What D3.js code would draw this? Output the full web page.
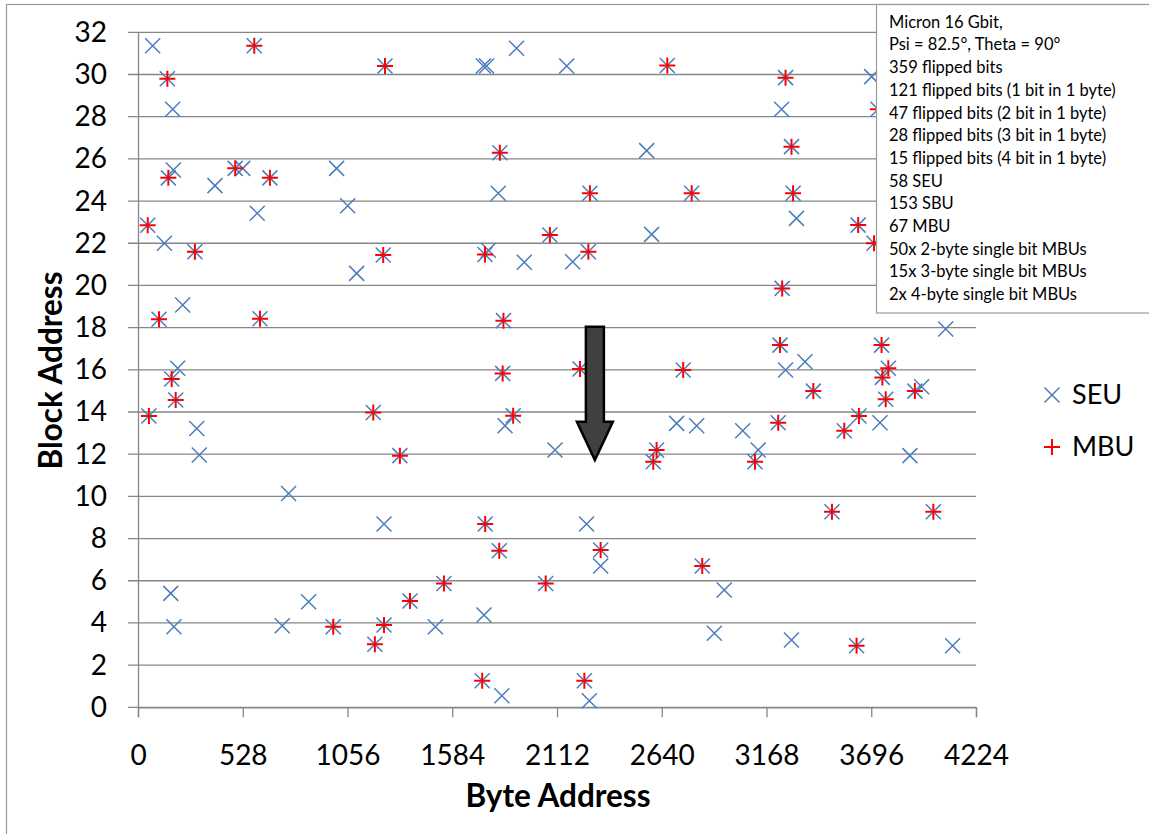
<!DOCTYPE html>
<html><head><meta charset="utf-8">
<script src="https://cdn.jsdelivr.net/npm/d3@7"></script>
<style>html,body{margin:0;padding:0;background:#fff;}svg{display:block;font-family:Lato,"Open Sans",sans-serif;}</style>
</head><body>
<svg id="c" width="1149" height="834"></svg>
<script>
// ---- data ----
const xTicks = [0,528,1056,1584,2112,2640,3168,3696,4224];
const yTicks = [0,2,4,6,8,10,12,14,16,18,20,22,24,26,28,30,32];
// SEU-only events (byte address, block address)
const seuByte  = [74,175,178,388,528,1001,601,1057,133,1102,225,200,296,309,759,165,181,727,860,
  1741,1757,1908,2161,2564,1816,2589,1766,1947,2191,1850,2715,2816,2102,1240,2261,2332,2955,1499,1744,
  1834,2275,2905,3294,4106,4071,3264,3362,3950,3048,3126,3740,3891,3698,3244,3319];
const seuBlock = [31.36,28.35,25.47,24.73,25.55,25.55,23.42,23.78,22.0,20.57,19.07,16.07,13.22,11.96,10.14,5.40,3.82,3.87,5.0,
  30.4,30.4,31.24,30.4,26.39,24.37,22.42,21.67,21.1,21.12,13.35,13.46,13.35,12.2,8.69,8.69,6.70,5.56,3.82,4.38,
  0.55,0.31,3.51,3.19,2.92,17.93,15.99,16.38,15.2,13.11,12.2,13.49,11.93,29.9,28.35,23.18];
// MBU events (byte address, block address)
const mbuByte  = [148,586,153,490,665,49,287,106,615,170,190,55,1186,984,1194,1245,2668,1824,2278,2791,2076,
  1236,1749,2270,1842,1838,2228,2748,1891,1320,2614,2597,1750,1821,2332,2844,1542,2055,1371,1240,1735,2250,
  3498,4009,3622,3236,3404,3748,3782,3752,3769,3916,3227,3110,3560,3634,3264,3730,3294,3302,3630,3710,3247];
const mbuBlock = [29.8,31.36,25.1,25.55,25.1,22.85,21.6,18.4,18.42,15.56,14.57,13.81,13.98,3.82,2.99,30.4,30.43,26.29,24.37,24.37,22.39,
  21.44,21.47,21.6,18.33,15.83,16.04,15.99,13.82,11.93,12.2,11.64,8.69,7.42,7.46,6.70,5.87,5.87,5.04,3.90,1.26,1.26,
  9.27,9.27,2.92,17.17,14.99,17.17,16.07,15.64,14.6,14.99,13.49,11.64,13.11,13.81,29.85,28.35,26.58,24.37,22.86,22.0,19.86];
const infoLines = ["Micron 16 Gbit,","Psi = 82.5°, Theta = 90°","359 flipped bits","121 flipped bits (1 bit in 1 byte)",
  "47 flipped bits (2 bit in 1 byte)","28 flipped bits (3 bit in 1 byte)","15 flipped bits (4 bit in 1 byte)",
  "58 SEU","153 SBU","67 MBU","50x 2-byte single bit MBUs","15x 3-byte single bit MBUs","2x 4-byte single bit MBUs"];
const seriesNames = ["SEU","MBU"];
// arrow annotation in data units: [byte, blockTop, blockHeadBase, blockTip]
const arrowPos = [2303, 18.04, 13.54, 11.72];

// ---- chart ----
const svg = d3.select("#c");
const L=138, R=976, T=32.3, B=707.3;
const x = d3.scaleLinear().domain([0,4224]).range([L,R]);
const y = d3.scaleLinear().domain([0,32]).range([B,T]);
const gridCol = "#868686", blue="#4a7ebb", red="#ff0000";

// outer border
svg.append("rect").attr("x",6.5).attr("y",4.5).attr("width",1160).attr("height",840)
  .attr("fill","none").attr("stroke","#9a9a9a").attr("stroke-width",1.2);

// gridlines
svg.append("g").selectAll("line").data(yTicks).join("line")
  .attr("x1",L-10).attr("x2",R).attr("y1",d=>y(d)).attr("y2",d=>y(d))
  .attr("stroke",gridCol).attr("stroke-width",1.3);

// y axis
const ya = svg.append("g").attr("transform",`translate(${L},0)`)
  .call(d3.axisLeft(y).tickValues(yTicks).tickSize(0).tickPadding(31));
ya.select(".domain").attr("stroke",gridCol).attr("stroke-width",1.3);
ya.selectAll("text").attr("font-size",28).attr("fill","#000").attr("font-family","Lato");

// x axis
const xa = svg.append("g").attr("transform",`translate(0,${B})`)
  .call(d3.axisBottom(x).tickValues(xTicks).tickSize(10).tickPadding(28).tickFormat(d3.format("d")));
xa.select(".domain").attr("stroke",gridCol).attr("stroke-width",1.3);
xa.selectAll("line").attr("stroke",gridCol).attr("stroke-width",1.3);
xa.selectAll("text").attr("font-size",28).attr("fill","#000").attr("font-family","Lato");

// axis titles
svg.append("text").attr("transform","translate(62,370.5) rotate(-90)").attr("text-anchor","middle")
  .attr("font-size",31.5).attr("font-weight","bold").text("Block Address");
svg.append("text").attr("x",558).attr("y",807).attr("text-anchor","middle")
  .attr("font-size",31.5).attr("font-weight","bold").text("Byte Address");

// markers
const xs=7.5, ps=8;
function xMark(g, cx, cy){
  g.append("path").attr("d",`M${cx-xs},${cy-xs}L${cx+xs},${cy+xs}M${cx-xs},${cy+xs}L${cx+xs},${cy-xs}`)
   .attr("stroke",blue).attr("stroke-width",1.5).attr("fill","none");
}
function pMark(g, cx, cy){
  g.append("path").attr("d",`M${cx-ps},${cy}L${cx+ps},${cy}M${cx},${cy-ps}L${cx},${cy+ps}`)
   .attr("stroke",red).attr("stroke-width",2).attr("fill","none");
}
const gS = svg.append("g");
seuByte.forEach((b,i)=>xMark(gS, x(b), y(seuBlock[i])));
mbuByte.forEach((b,i)=>xMark(gS, x(b), y(mbuBlock[i])));
const gM = svg.append("g");
mbuByte.forEach((b,i)=>pMark(gM, x(b), y(mbuBlock[i])));

// arrow
const ax = x(arrowPos[0]), aT=y(arrowPos[1]), aH=y(arrowPos[2]), aTip=y(arrowPos[3]);
svg.append("path").attr("d",`M${ax-9},${aT}L${ax+9},${aT}L${ax+9},${aH}L${ax+18},${aH}L${ax},${aTip}L${ax-18},${aH}L${ax-9},${aH}Z`)
  .attr("fill","#404040").attr("stroke","#000").attr("stroke-width",2.5).attr("stroke-linejoin","miter");

// info box
svg.append("rect").attr("x",876.5).attr("y",4.5).attr("width",300).attr("height",308.5)
  .attr("fill","#fff").attr("stroke","#9a9a9a").attr("stroke-width",1.2);
svg.append("g").selectAll("text").data(infoLines).join("text")
  .attr("x",889).attr("y",(d,i)=>22+i*22.7).attr("dy","0.35em")
  .attr("font-size",16.5).attr("fill","#000").text(d=>d);

// legend
const lg = svg.append("g");
xMark(lg, 1052, 395);
pMark(lg, 1052, 447);
lg.selectAll("text").data(seriesNames).join("text")
  .attr("x",1072).attr("y",(d,i)=>395+i*52).attr("dy","0.35em")
  .attr("font-size",27).attr("fill","#000").text(d=>d);
</script>
</body></html>
